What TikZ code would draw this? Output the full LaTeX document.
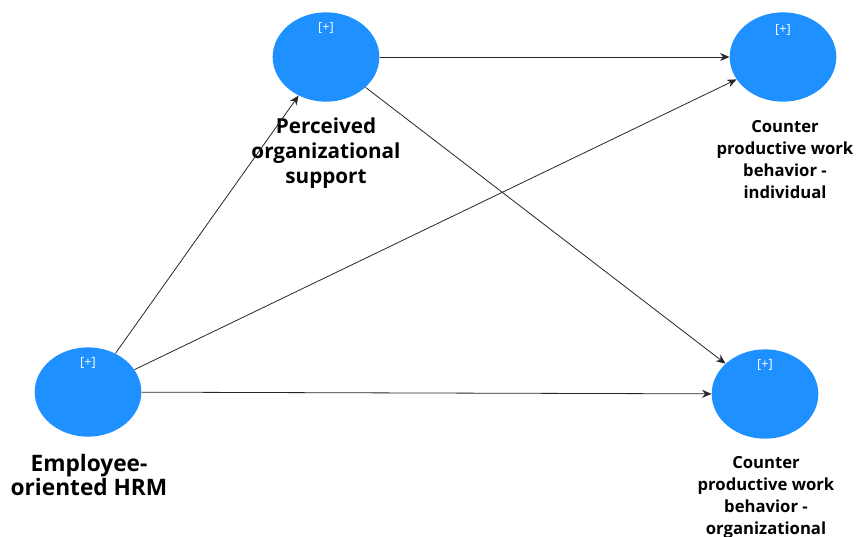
\documentclass[tikz,border=0pt]{standalone}
\usepackage{fontspec}
\setmainfont{Open Sans}
\usetikzlibrary{shapes.geometric,arrows.meta}

\tikzset{
  construct/.style={ellipse, fill=latentblue, draw=none, minimum width=80pt, minimum height=67pt, inner sep=0pt},
  plus/.style={text=white, font=\fontsize{9.5}{11}\selectfont},
  cname/.style={align=center, font=\bfseries\fontsize{15.5}{19}\selectfont},
  cnamesmall/.style={align=center, font=\bfseries\fontsize{12.5}{16.5}\selectfont},
  path/.style={draw=black!85, line width=0.6pt, -{Stealth[length=7pt,width=6pt]}}
}
\definecolor{latentblue}{RGB}{30,144,255}

\begin{document}
\begin{tikzpicture}[x=0.75pt,y=-0.75pt]
        \useasboundingbox (0,0) rectangle (862,536);

        % Constructs
        \node[construct] (hrm) at (88,392) {};
        \node[construct] (pos) at (326,57) {};
        \node[construct] (cwbi) at (783,57) {};
        \node[construct] (cwbo) at (765,394) {};

        \node[plus] (hrmplus) at (88,363) {[+]};
        \node[plus] (posplus) at (326,28) {[+]};
        \node[plus] (cwbiplus) at (783,30) {[+]};
        \node[plus] (cwboplus) at (765,365) {[+]};

        % Labels
        \node[cname, font=\bfseries\fontsize{17}{18}\selectfont] (hrmlabel) at (89,475) {Employee-\\oriented HRM};
        \node[cname] (poslabel) at (326,153) {Perceived\\organizational\\support};
        \node[cnamesmall] (cwbilabel) at (785,160) {Counter\\productive work\\behavior -\\individual};
        \node[cnamesmall, anchor=north] (cwbolabel) at (766,452) {Counter\\productive work\\behavior -\\organizational};

        % Paths
        \draw[path] (hrm) -- (pos);
        \draw[path] (hrm) -- (cwbi);
        \draw[path] (hrm) -- (cwbo);
        \draw[path] (pos) -- (cwbi);
        \draw[path] (pos) -- (cwbo);
      \end{tikzpicture}
\end{document}
